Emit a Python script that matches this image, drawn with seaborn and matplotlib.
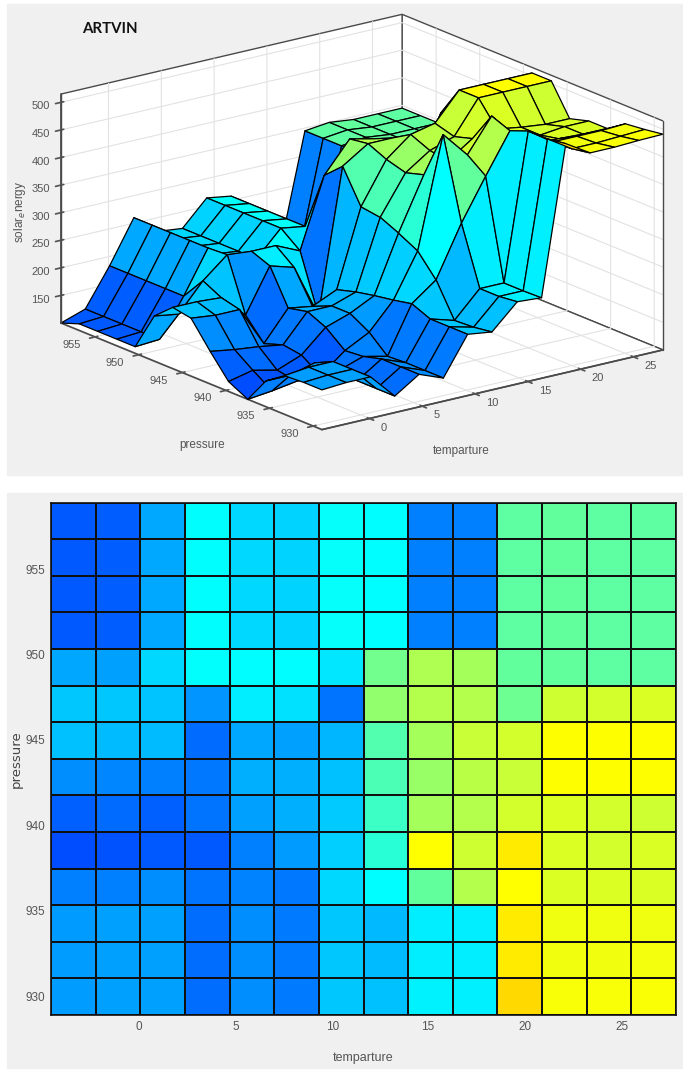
import numpy as np
import pandas as pd
import seaborn as sns
import matplotlib
matplotlib.use('Agg')
import matplotlib.pyplot as plt
from matplotlib.colors import LinearSegmentedColormap, Normalize
from matplotlib.patches import Rectangle
from mpl_toolkits.mplot3d import proj3d

# grid edges
temp_edges = [-4.5, -2.2, 0.1, 2.4, 4.7, 7.0, 9.3, 11.6, 14.0, 16.3, 18.6, 20.9, 23.2, 25.5, 27.8]
press_edges = [929.0, 931.1, 933.3, 935.4, 937.5, 939.7, 941.8, 944.0, 946.1, 948.2, 950.4, 952.5, 954.7, 956.8, 958.9]

temp_ticks = [0, 5, 10, 15, 20, 25]
press_ticks = [930, 935, 940, 945, 950, 955]
energy_ticks = [150, 200, 250, 300, 350, 400, 450, 500]

# solar energy per vertex, rows go from low pressure to high pressure
energy = [
    [172, 175, 175, 130, 159, 142, 211, 205, 249, 246, 515, 488, 488, 490, 491],
    [172, 175, 175, 130, 159, 142, 211, 200, 245, 245, 510, 482, 482, 484, 486],
    [170, 175, 175, 130, 159, 142, 211, 198, 245, 245, 510, 480, 480, 480, 482],
    [147, 147, 159, 135, 150, 140, 225, 258, 350, 425, 497, 462, 462, 460, 460],
    [100, 105, 112, 112, 147, 170, 218, 297, 497, 450, 510, 462, 455, 460, 460],
    [118, 128, 118, 135, 175, 190, 212, 315, 410, 425, 455, 462, 455, 450, 450],
    [159, 152, 147, 140, 190, 190, 205, 330, 400, 430, 445, 505, 505, 505, 505],
    [205, 200, 200, 128, 182, 175, 195, 335, 410, 445, 455, 505, 505, 505, 505],
    [211, 211, 208, 166, 245, 232, 135, 395, 425, 425, 360, 450, 455, 460, 460],
    [182, 175, 225, 262, 258, 258, 238, 365, 420, 410, 350, 350, 345, 345, 345],
    [112, 115, 183, 260, 225, 220, 265, 258, 147, 147, 345, 350, 345, 345, 345],
    [112, 115, 183, 260, 225, 220, 265, 258, 147, 147, 345, 350, 345, 345, 345],
    [112, 115, 183, 260, 225, 220, 265, 258, 147, 147, 345, 350, 345, 345, 345],
    [112, 115, 183, 260, 225, 220, 265, 258, 147, 147, 345, 350, 345, 345, 345],
    [100, 115, 183, 260, 225, 220, 265, 258, 147, 147, 345, 350, 345, 345, 345],
]

W, H = 683, 1077
GRAY = '#f0f0f0'
TICK = '#555555'
EDGE = '#4a4a4a'

sns.set_theme(style='white', rc={'grid.color': '#e2e2e2', 'grid.linewidth': 0.8})
plt.rcParams['font.family'] = ['Liberation Sans', 'DejaVu Sans']

# blue to cyan to yellow, stops in energy units 100, 260, 495, 505, 515
cmap = LinearSegmentedColormap.from_list('solar', [(0.0, (0, 0.3, 1)), (160 / 415, (0, 1, 1)),
                                                  (395 / 415, (1, 1, 0)), (405 / 415, (1, 1, 0)),
                                                  (1.0, (1, 0.85, 0))])
norm = Normalize(vmin=100, vmax=515)
z = np.array(energy, dtype=float)
X, Y = np.meshgrid(temp_edges, press_edges)


def px_box(left, top, width, height):
    return [left / W, 1 - (top + height) / H, width / W, height / H]


fig = plt.figure(figsize=(W / 100, H / 100), dpi=100, facecolor='white')
fig.add_artist(Rectangle((7 / W, 1 - 475 / H), 676 / W, 471 / H, transform=fig.transFigure, color=GRAY, zorder=-5))
fig.add_artist(Rectangle((7 / W, 1 - 1068 / H), 676 / W, 575 / H, transform=fig.transFigure, color=GRAY, zorder=-5))

# surface
ax3 = fig.add_axes(px_box(60, 0, 450, 450), projection='3d', proj_type='ortho')
ax3.set_facecolor('none')
ax3.view_init(elev=18, azim=-127.1)
ax3.set_box_aspect((427.6, 432.5, 240.7))
ax3.set_xlim(temp_edges[0], temp_edges[-1])
ax3.set_ylim(press_edges[0], press_edges[-1])
ax3.set_zlim(100, 515)
ax3.plot_surface(X, Y, z, rstride=1, cstride=1, facecolors=cmap(norm(z)),
                 edgecolor='black', linewidth=0.9, shade=False, antialiased=True)
# vertical box edges the panes leave out
ax3.plot([temp_edges[0]] * 2, [press_edges[-1]] * 2, [100, 515], color=EDGE, lw=1)
ax3.plot([temp_edges[-1]] * 2, [press_edges[0]] * 2, [100, 515], color=EDGE, lw=1)
ax3.set_xticks(temp_ticks)
ax3.set_yticks(press_ticks)
ax3.set_zticks(energy_ticks)
ax3.tick_params(labelsize=8, labelcolor=TICK, color=TICK, pad=2)
ax3.tick_params(axis='z', pad=0)
for axis in (ax3.xaxis, ax3.yaxis, ax3.zaxis):
    axis.set_pane_color((1, 1, 1, 1))
    axis.pane.set_edgecolor(EDGE)
    axis.pane.set_linewidth(1)
    axis.line.set_color(EDGE)
for lab in ax3.get_xticklabels():
    lab.set_ha('left')
    lab.set_va('bottom')
for lab in ax3.get_yticklabels():
    lab.set_ha('right')
    lab.set_va('bottom')

# fit the box onto the corners seen in the picture: left floor corner and right floor corner
side, left, top = 450.0, 60.0, 0.0
for _ in range(3):
    ax3.set_position(px_box(left, top, side, side))
    fig.canvas.draw()
    px, py, _z = proj3d.proj_transform(np.array([temp_edges[0], temp_edges[-1]]),
                                       np.array([press_edges[-1], press_edges[0]]),
                                       np.array([100.0, 100.0]), ax3.M)
    d = ax3.transData.transform(np.column_stack([px, py]))
    k = (663 - 61) / (d[1, 0] - d[0, 0])
    cx, cy = left + side / 2, top + side / 2
    new_cx = 61 - (d[0, 0] - cx) * k
    new_cy = 323 - ((H - d[0, 1]) - cy) * k
    side = side * k
    left, top = new_cx - side / 2, new_cy - side / 2
ax3.set_position(px_box(left, top, side, side))

fig.text(82 / W, 1 - 29 / H, 'ARTVIN', family=['Lato', 'DejaVu Sans'], fontweight='bold',
         fontsize=10.8, color='#111111', va='center')
# matplotlib turns 3d axis labels along the axis, the picture has them flat
fig.text(461 / W, 1 - 451 / H, 'temparture', fontsize=8.5, color=TICK, ha='center', va='center')
fig.text(202 / W, 1 - 445 / H, 'pressure', fontsize=8.5, color=TICK, ha='center', va='center')
fig.text(20 / W, 1 - 212 / H, 'solar$_e$nergy', fontsize=8.5, color=TICK, ha='center', va='center', rotation=90)

# top view
ax = fig.add_axes(px_box(51, 502.7, 625, 512.3))
heat = pd.DataFrame(z[:-1, :-1][::-1])
sns.heatmap(heat, cmap=cmap, norm=norm, cbar=False, linewidths=1.1, linecolor='#101010', ax=ax)
ax.set_xticks(np.interp(temp_ticks, temp_edges, np.arange(len(temp_edges))))
ax.set_xticklabels(temp_ticks, rotation=0)
ax.set_yticks(np.interp(press_ticks, press_edges, np.arange(len(press_edges))[::-1]))
ax.set_yticklabels(press_ticks, rotation=0)
ax.tick_params(length=0, labelsize=8.5, labelcolor=TICK, pad=4)
ax.set_xlabel('temparture', fontsize=9, color=TICK, labelpad=14)
ax.set_ylabel('pressure', fontsize=9.5, color='#444444', labelpad=2, family=['DejaVu Sans'])
for s in ax.spines.values():
    s.set_visible(True)
    s.set_color('#101010')
    s.set_linewidth(1.2)

fig.savefig('out.png', dpi=100, facecolor='white')
